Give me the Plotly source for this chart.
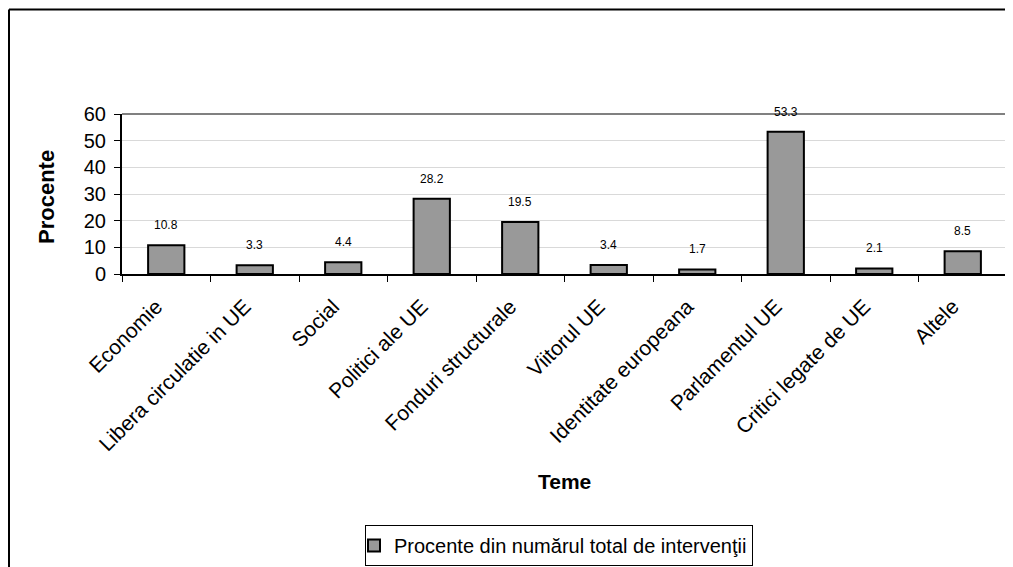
import plotly.graph_objects as go

categories = ["Economie", "Libera circulatie in UE", "Social", "Politici ale UE",
              "Fonduri structurale", "Viitorul UE", "Identitate europeana",
              "Parlamentul UE", "Critici legate de UE", "Altele"]
values = [10.8, 3.3, 4.4, 28.2, 19.5, 3.4, 1.7, 53.3, 2.1, 8.5]
value_labels = ["10.8", "3.3", "4.4", "28.2", "19.5", "3.4", "1.7", "53.3", "2.1", "8.5"]
y_ticks = [0, 10, 20, 30, 40, 50, 60]
series_name = "Procente din numărul total de intervenţii"

# the page body adds an 8px offset; figure coordinates are page coordinates minus 8
W, H = 1013, 567
ML, MR, MT, MB = 114, 14, 106, 301
PW, PH = W - ML - MR, H - MT - MB

FONT = "Liberation Sans, Arial, sans-serif"

fig = go.Figure()
fig.add_trace(go.Bar(
    x=categories, y=values, name=series_name,
    marker=dict(color="#999999", line=dict(color="#000000", width=2)),
    showlegend=True,
))

annotations = []
for c, v, t in zip(categories, values, value_labels):
    annotations.append(dict(x=c, y=v, xref="x", yref="y", text=t, showarrow=False,
                            yanchor="bottom", yshift=11,
                            font=dict(family=FONT, size=12, color="#000000")))
annotations.append(dict(x=0, y=0.5, xref="paper", yref="paper", text="<b>Procente</b>",
                        textangle=-90, showarrow=False, xanchor="center", yanchor="middle",
                        xshift=-76, yshift=-3, font=dict(family=FONT, size=22, color="#000000")))
annotations.append(dict(x=0.5, y=0, xref="paper", yref="paper", text="<b>Teme</b>",
                        showarrow=False, xanchor="center", yanchor="middle",
                        yshift=-207, font=dict(family=FONT, size=21, color="#000000")))

fx0 = (1 - ML) / PW
fy_top = (MT - 1.5) / PH + 1
shapes = [
    dict(type="line", xref="paper", yref="paper", x0=0, x1=1, y0=1, y1=1,
         line=dict(color="#808080", width=2)),
    dict(type="line", xref="paper", yref="paper", x0=1, x1=1, y0=0, y1=1,
         line=dict(color="#808080", width=1)),
    # outer chart frame: only left and top edges fall inside the window
    dict(type="line", xref="paper", yref="paper", x0=fx0, x1=fx0,
         y0=-(MB + 5) / PH, y1=fy_top, line=dict(color="#000000", width=2)),
    dict(type="line", xref="paper", yref="paper", x0=fx0, x1=(W + 5 - ML) / PW,
         y0=fy_top, y1=fy_top, line=dict(color="#000000", width=2)),
]

fig.update_layout(
    width=W, height=H,
    margin=dict(l=ML, r=MR, t=MT, b=MB, autoexpand=False),
    paper_bgcolor="white", plot_bgcolor="white",
    font=dict(family=FONT, color="#000000"),
    bargap=0.59,
    annotations=annotations,
    shapes=shapes,
    showlegend=True,
    legend=dict(x=(357 - ML) / PW, y=-(517 - MT - PH) / PH, xref="paper", yref="paper",
                xanchor="left", yanchor="top",
                bordercolor="#000000", borderwidth=1, bgcolor="white",
                font=dict(family=FONT, size=20, color="#000000"),
                itemwidth=30, indentation=-12),
    xaxis=dict(
        type="category", tickangle=-45, tickson="boundaries",
        ticks="outside", ticklen=6, tickcolor="#000000", tickwidth=1,
        showline=True, linecolor="#000000", linewidth=2,
        tickfont=dict(family=FONT, size=21, color="#000000"),
        ticklabelstandoff=10, ticklabelshift=-10,
        showgrid=False, automargin=False,
    ),
    yaxis=dict(
        range=[0, 60], tickvals=y_ticks,
        ticks="outside", ticklen=6, tickcolor="#000000", tickwidth=1,
        showline=True, linecolor="#000000", linewidth=2,
        showgrid=True, gridcolor="#d9d9d9", gridwidth=1,
        tickfont=dict(family=FONT, size=20, color="#000000"),
        ticklabelstandoff=4,
        zeroline=False, automargin=False,
    ),
)

fig.write_html("out.html")
